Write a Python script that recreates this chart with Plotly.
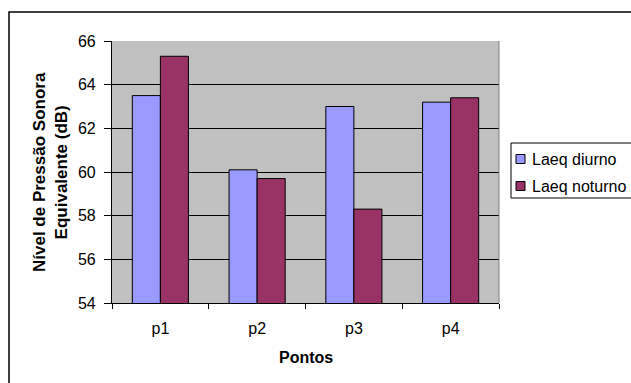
import plotly.graph_objects as go

# Equivalent sound pressure level per measuring point (dB)
pontos = ["p1", "p2", "p3", "p4"]
laeq_diurno = [63.5, 60.1, 63.0, 63.2]
laeq_noturno = [65.3, 59.7, 58.3, 63.4]
serie_nomes = ["Laeq diurno", "Laeq noturno"]
serie_cores = ["#9999FF", "#993366"]
y_ticks = [54, 56, 58, 60, 62, 64, 66]

W, H = 631, 383
ML, MR, MT, MB = 112, 132, 41, 80
PW, PH = W - ML - MR, H - MT - MB


def px_x(px):
    """Pixel column -> paper x."""
    return (px - ML) / PW


def px_y(py):
    """Pixel row -> paper y."""
    return (H - MB - py) / PH


FONT = "Liberation Sans, Arial, sans-serif"

fig = go.Figure()
for nome, valores, cor in zip(serie_nomes, [laeq_diurno, laeq_noturno], serie_cores):
    fig.add_trace(go.Bar(
        x=pontos, y=valores, name=nome,
        marker=dict(color=cor, line=dict(color="black", width=1)),
        showlegend=False,
    ))

fig.update_layout(
    width=W, height=H,
    margin=dict(l=ML, r=MR, t=MT, b=MB, pad=0),
    paper_bgcolor="white",
    plot_bgcolor="#C0C0C0",
    barmode="group", bargap=0.42, bargroupgap=0,
    font=dict(family=FONT, size=16, color="black"),
    xaxis=dict(
        type="category", range=[-0.5, 3.5],
        showline=True, linecolor="black", linewidth=1.2,
        ticks="outside", tickson="boundaries", ticklen=5, tickcolor="black",
        showgrid=False, ticklabelstandoff=11,
        tickfont=dict(size=16),
    ),
    yaxis=dict(
        range=[54, 66], tickvals=y_ticks,
        showline=True, linecolor="black", linewidth=1.2,
        ticks="outside", ticklen=7, tickcolor="black",
        showgrid=True, gridcolor="black", gridwidth=1,
        zeroline=False, ticklabelstandoff=5,
        tickfont=dict(size=16),
    ),
)

shapes = [
    # chart frame
    dict(type="rect", xref="paper", yref="paper",
         x0=px_x(9), x1=px_x(W + 20), y0=px_y(12), y1=px_y(H + 20),
         line=dict(color="black", width=1.5), fillcolor="rgba(0,0,0,0)", layer="below"),
    # plot area right edge
    dict(type="line", xref="paper", yref="paper", x0=1, x1=1, y0=0, y1=1,
         line=dict(color="#808080", width=1)),
    # legend box
    dict(type="rect", xref="paper", yref="paper",
         x0=px_x(511), x1=px_x(W + 20), y0=px_y(143), y1=px_y(198),
         line=dict(color="black", width=1), fillcolor="white"),
]
annotations = [
    dict(text="<b>Pontos</b>", xref="paper", yref="paper",
         x=0.5, y=px_y(357), xanchor="center", yanchor="middle",
         showarrow=False, font=dict(size=16)),
    dict(text="<b>Nível de Pressão Sonora<br>Equivalente (dB)</b>",
         xref="paper", yref="paper", x=px_x(50), y=0.5,
         xanchor="center", yanchor="middle", textangle=-90,
         showarrow=False, font=dict(size=17)),
]

# legend entries
for i, (nome, cor) in enumerate(zip(serie_nomes, serie_cores)):
    cy = 159 + i * 27
    shapes.append(dict(type="rect", xref="paper", yref="paper",
                       x0=px_x(516), x1=px_x(525), y0=px_y(cy + 4.5), y1=px_y(cy - 4.5),
                       line=dict(color="black", width=1), fillcolor=cor))
    annotations.append(dict(text=nome, xref="paper", yref="paper",
                            x=px_x(530), y=px_y(cy), xanchor="left", yanchor="middle",
                            showarrow=False, font=dict(size=16)))

fig.update_layout(shapes=shapes, annotations=annotations)

fig.write_html("out.html")
